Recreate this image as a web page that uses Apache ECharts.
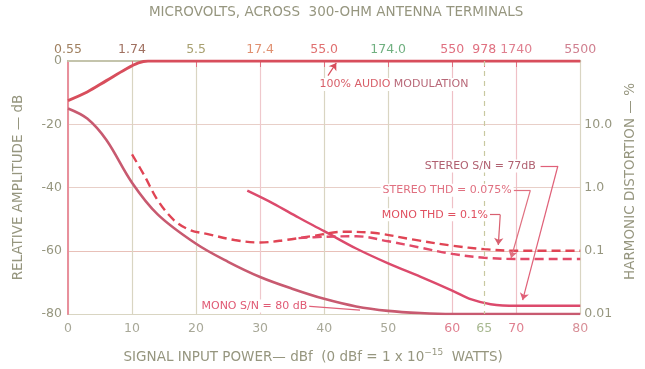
<!DOCTYPE html>
<html>
<head>
<meta charset="utf-8">
<script src="https://cdn.jsdelivr.net/npm/echarts@6/dist/echarts.min.js"></script>
<style>
  html, body { margin: 0; padding: 0; background: #fff; }
  #chart { width: 645px; height: 369px; }
</style>
</head>
<body>
<div id="chart"></div>
<script>
// Signal input power (dBf) tick positions and the matching microvolt readings
const dbfTicks = [0, 10, 20, 30, 40, 50, 60, 65, 70, 80];
const microvoltLabels = ['0.55', '1.74', '5.5', '17.4', '55.0', '174.0', '550', '978', '1740', '5500'];

// Relative amplitude ticks (dB) and the harmonic distortion scale (%)
const ampTicks = [-80, -60, -40, -20, 0];
const thdTicks = [-80, -60, -40, -20];
const thdLabels = ['0.01', '0.1', '1.0', '10.0'];

// Curves: [dBf, dB]
const audioModulation = [[0, -12.5], [3, -9.8], [6, -6.2], [9, -2.6], [11, -0.6], [12.5, 0], [20, 0], [40, 0], [80, 0]];
const monoSN = [[0, -15], [3, -18.2], [6, -25], [10, -38.5], [14, -48.5], [20, -57.8], [25, -63.5], [30, -68.3], [35, -72], [40, -75.2], [45, -77.6], [50, -79], [55, -79.7], [60, -80], [80, -80]];
const stereoSN = [[28, -41], [32, -45], [36, -49.5], [40, -53.8], [45, -59.3], [50, -64], [55, -68.2], [60, -72.6], [63, -75.4], [66, -76.9], [70, -77.4], [80, -77.4]];
const monoTHD = [[10, -29.5], [12, -36.5], [14, -44], [16.5, -50.2], [19, -53.4], [22, -54.8], [26, -56.6], [30, -57.4], [34, -56.6], [38, -55.4], [43, -54], [48, -54.4], [54, -56.5], [60, -58.4], [65, -59.5], [70, -60], [80, -60]];
const stereoTHD = [[36, -56], [40, -55.6], [45, -55.4], [50, -57], [55, -59], [60, -61], [65, -62.2], [70, -62.6], [80, -62.6]];

const FONT = 'DejaVu Sans';
const AXIS_TEXT = '#96967f';
const GRID = '#d9d5c2';

const bottomLabelColors = ['#a8a898', '#a8a898', '#a8a898', '#a8a898', '#a8a898', '#a8a898', '#e08090', '#a8b890', '#e08090', '#d89098'];
const topLabelColors = ['#a08060', '#a07060', '#a8a070', '#e09070', '#e07070', '#70b080', '#e07080', '#e07080', '#e08090', '#d08090'];

function label(text, x, y, color, rich) {
  return {
    coord: [x, y],
    symbol: 'circle',
    symbolSize: 0,
    label: {
      show: true, position: 'inside', formatter: text, color: color,
      fontFamily: FONT, fontSize: 11, backgroundColor: '#fff', padding: [1, 2],
      rich: rich || {}
    }
  };
}
function seg(x1, y1, x2, y2, color, arrow) {
  return [
    { coord: [x1, y1], symbol: 'none', lineStyle: { color: color, width: 1.2, type: 'solid' } },
    { coord: [x2, y2], symbol: arrow ? 'arrow' : 'none', symbolSize: 7 }
  ];
}

const chart = echarts.init(document.getElementById('chart'));
chart.setOption({
  animation: false,
  backgroundColor: '#fff',
  textStyle: { fontFamily: FONT },
  grid: { left: 68, right: 51, top: 60, bottom: 49 },
  xAxis: [
    {
      type: 'value', position: 'bottom', min: 0, max: 80, interval: 10,
      name: '{t|SIGNAL INPUT POWER— dBf  (0 dBf = 1 x 10}{s|−15}{t|  WATTS)}',
      nameLocation: 'middle', nameGap: 34,
      nameTextStyle: {
        padding: [0, 22, 0, 0],
        rich: {
          t: { fontFamily: FONT, fontSize: 13.5, color: AXIS_TEXT },
          s: { fontFamily: FONT, fontSize: 9, color: AXIS_TEXT, verticalAlign: 'bottom', padding: [0, 0, 9, 0] }
        }
      },
      axisLine: { lineStyle: { color: '#b8b8a0', width: 2 } },
      axisTick: { show: false },
      axisLabel: {
        customValues: dbfTicks, margin: 8, fontSize: 12.5, fontFamily: FONT,
        color: (v) => bottomLabelColors[dbfTicks.indexOf(Number(v))] || AXIS_TEXT
      },
      splitLine: { show: true, lineStyle: { color: [GRID, GRID, GRID, '#efc8cc', GRID, GRID, '#efc0c6', '#efc0c6', GRID], width: 1.2 } }
    },
    {
      type: 'value', position: 'top', min: 0, max: 80, interval: 10,
      name: 'MICROVOLTS, ACROSS  300-OHM ANTENNA TERMINALS',
      nameLocation: 'middle', nameGap: 42,
      nameTextStyle: { fontFamily: FONT, fontSize: 13.5, color: AXIS_TEXT, padding: [0, 0, 0, 24] },
      axisLine: { lineStyle: { color: '#c8c8b0', width: 1.5 } },
      axisTick: { show: true, inside: true, length: 6, customValues: dbfTicks.slice(1, -1), lineStyle: { color: '#e07080' } },
      axisLabel: {
        customValues: dbfTicks, margin: 5, fontSize: 12.5, fontFamily: FONT,
        formatter: (v) => microvoltLabels[dbfTicks.indexOf(Number(v))],
        color: (v) => topLabelColors[dbfTicks.indexOf(Number(v))] || AXIS_TEXT
      },
      splitLine: { show: false }
    }
  ],
  yAxis: [
    {
      type: 'value', position: 'left', min: -80, max: 0, interval: 20,
      name: 'RELATIVE AMPLITUDE — dB',
      nameLocation: 'middle', nameGap: 43,
      nameTextStyle: { fontFamily: FONT, fontSize: 13.5, color: AXIS_TEXT },
      axisLine: { show: true, lineStyle: { color: '#b8b8a0', width: 2 } },
      axisTick: { show: false },
      axisLabel: { customValues: ampTicks, margin: 6, fontSize: 12.5, fontFamily: FONT, color: AXIS_TEXT },
      splitLine: { show: true, lineStyle: { color: [GRID, '#e8c0b8', '#e8cfc8', '#e8cfc8', GRID], width: 1.2 } }
    },
    {
      type: 'value', position: 'right', min: -80, max: 0, interval: 20,
      name: 'HARMONIC DISTORTION — %',
      nameLocation: 'middle', nameGap: 41,
      nameTextStyle: { fontFamily: FONT, fontSize: 13.5, color: AXIS_TEXT, padding: [0, 0, 0, 12] },
      axisLine: { show: true, lineStyle: { color: '#e8909c', width: 2 } },
      axisTick: { show: false },
      axisLabel: {
        customValues: thdTicks, margin: 4, fontSize: 12.5, fontFamily: FONT, color: AXIS_TEXT,
        formatter: (v) => thdLabels[thdTicks.indexOf(Number(v))]
      },
      splitLine: { show: false }
    }
  ],
  series: [
    {
      name: 'Mono S/N', type: 'line', data: monoSN, smooth: 0.35,
      showSymbol: false, lineStyle: { color: '#c85a70', width: 2.6 },
      markLine: {
        silent: true, symbol: 'none', label: { show: false },
        data: [
          [{ coord: [65, 0], lineStyle: { color: '#c8c8a0', type: [5, 5], width: 1.2 } }, { coord: [65, -80] }],
          seg(37.3, -77.5, 45.6, -78.8, '#e06078', false)
        ]
      },
      markPoint: {
        silent: true,
        data: [label('MONO S/N = 80 dB', 29.1, -77.5, '#e05a74')]
      }
    },
    {
      name: '100% audio modulation', type: 'line', data: audioModulation, smooth: 0.35,
      showSymbol: false, lineStyle: { color: '#d84e5c', width: 3 },
      markLine: {
        silent: true, symbol: 'none', label: { show: false },
        data: [seg(40.6, -4.6, 41.9, -0.6, '#d84e5c', true)]
      },
      markPoint: {
        silent: true,
        data: [label('{a|100% AUDIO} {b|MODULATION}', 50.9, -7.4, '#c86070', {
          a: { color: '#d8606a', fontFamily: FONT, fontSize: 11 },
          b: { color: '#b86878', fontFamily: FONT, fontSize: 11 }
        })]
      }
    },
    {
      name: 'Stereo S/N', type: 'line', data: stereoSN, smooth: 0.35,
      showSymbol: false, lineStyle: { color: '#dc4a6c', width: 2.4 },
      markLine: {
        silent: true, symbol: 'none', label: { show: false },
        data: [
          seg(73.8, -33.2, 76.5, -33.2, '#e06078', false),
          seg(76.5, -33.2, 71.0, -75.6, '#e06078', true)
        ]
      },
      markPoint: {
        silent: true,
        data: [label('STEREO S/N = 77dB', 64.4, -33.2, '#b06070')]
      }
    },
    {
      name: 'Mono THD', type: 'line', data: monoTHD, smooth: 0.35,
      showSymbol: false, lineStyle: { color: '#e04454', width: 2.4, type: [9, 5] },
      markLine: {
        silent: true, symbol: 'none', label: { show: false },
        data: [
          seg(65.2, -48.6, 67.5, -48.6, '#d86070', false),
          seg(67.5, -48.6, 67.2, -58.2, '#d86070', true)
        ]
      },
      markPoint: {
        silent: true,
        data: [label('MONO THD = 0.1%', 57.3, -48.6, '#e05060')]
      }
    },
    {
      name: 'Stereo THD', type: 'line', data: stereoTHD, smooth: 0.35,
      showSymbol: false, lineStyle: { color: '#e24a68', width: 2.4, type: [9, 5] },
      markLine: {
        silent: true, symbol: 'none', label: { show: false },
        data: [
          seg(69.6, -40.9, 72.2, -40.9, '#e07080', false),
          seg(72.2, -40.9, 69.2, -62.3, '#e07080', true)
        ]
      },
      markPoint: {
        silent: true,
        data: [label('STEREO THD = 0.075%', 59.2, -40.9, '#e07080')]
      }
    }
  ]
});
</script>
</body>
</html>
